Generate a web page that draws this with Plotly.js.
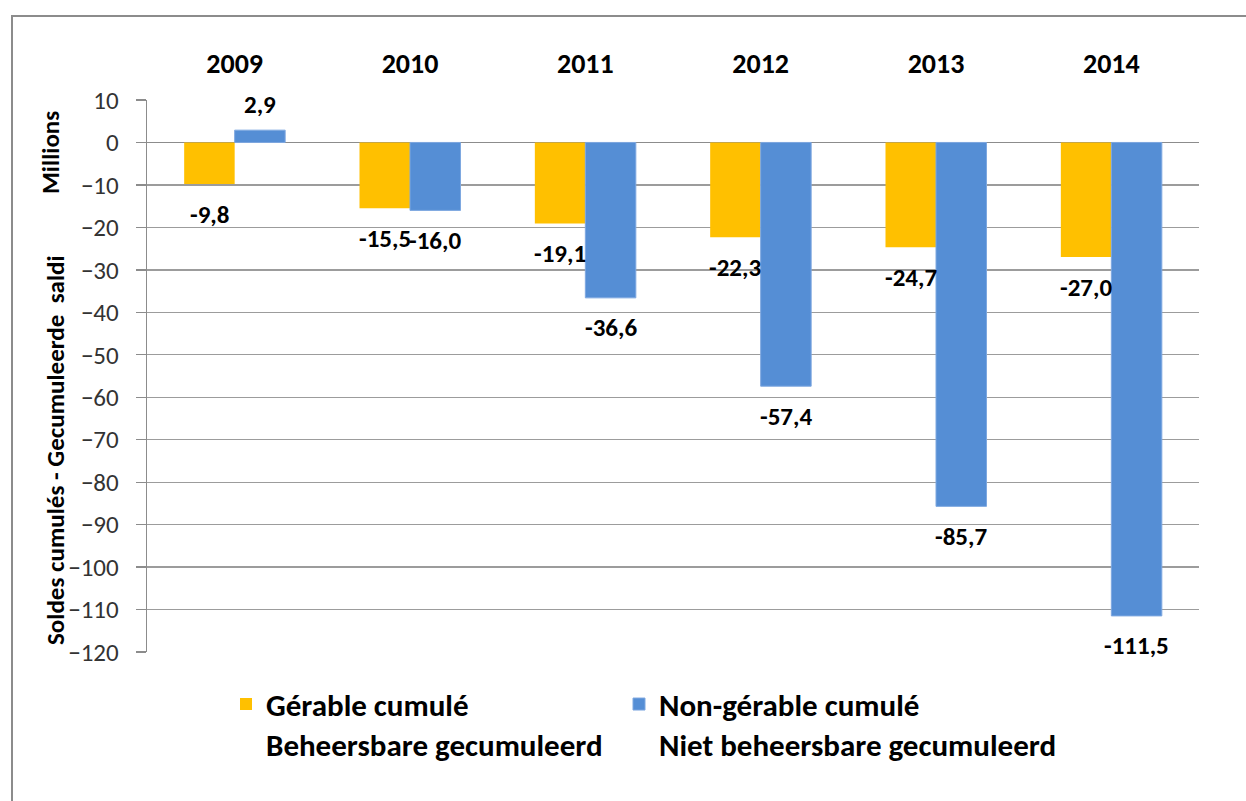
<!DOCTYPE html>
<html>
<head>
<meta charset="utf-8">
<script src="https://cdn.plot.ly/plotly-3.0.1.min.js"></script>
<style>
  html, body { margin: 0; padding: 0; background: #fff; overflow: hidden; }
  #wrap { position: relative; width: 1246px; height: 801px; }
  #chart { width: 1246px; height: 801px; }
  #frame { position: absolute; left: 11px; top: 15px; width: 1400px; height: 900px;
           border-left: 2px solid #8c8c8c; border-top: 2px solid #8c8c8c; pointer-events: none; }
</style>
</head>
<body>
<div id="wrap">
  <div id="chart"></div>
  <div id="frame"></div>
</div>
<script>
const years = ['2009', '2010', '2011', '2012', '2013', '2014'];
const gerable = [-9.8, -15.5, -19.1, -22.3, -24.7, -27.0];
const nonGerable = [2.9, -16.0, -36.6, -57.4, -85.7, -111.5];
const nameGerable = 'Gérable cumulé<br>Beheersbare gecumuleerd';
const nameNonGerable = 'Non-gérable cumulé<br>Niet beheersbare gecumuleerd';
const yTitle = 'Soldes cumulés - Gecumuleerde\u00a0 saldi';
const unitsLabel = 'Millions';

const FONT = 'Carlito, Calibri, Lato, sans-serif';
const bargap = 0.424;
const half = (1 - bargap) / 4;
const fmt = v => v.toFixed(1).replace('.', ',');

const traces = [
  { type: 'bar', x: years, y: gerable, name: nameGerable, legend: 'legend',
    marker: { color: '#FFC000', line: { width: 0 } }, hoverinfo: 'skip' },
  { type: 'bar', x: years, y: nonGerable, name: nameNonGerable, legend: 'legend2',
    marker: { color: '#558ED5', line: { color: '#7EA8E0', width: 1 } }, hoverinfo: 'skip' }
];

const annotations = [];
[[gerable, -half], [nonGerable, half]].forEach(([vals, off]) => {
  vals.forEach((v, i) => {
    annotations.push({
      x: i + off, y: v, xref: 'x', yref: 'y', text: fmt(v), showarrow: false,
      xanchor: 'center', yanchor: 'middle',
      yshift: v < 0 ? -30 : 26,
      font: { family: FONT, size: 25, color: '#000', weight: 'bold' }
    });
  });
});
annotations.push({
  xref: 'paper', yref: 'paper', x: (50 - 147) / 1052, y: (652 - 153) / 552, text: unitsLabel,
  textangle: -90, xanchor: 'center', yanchor: 'middle',
  showarrow: false, font: { family: FONT, size: 25, color: '#000', weight: 'bold' }
});
annotations.push({
  xref: 'paper', yref: 'paper', x: (56 - 147) / 1052, y: (652 - 450) / 552, text: yTitle,
  textangle: -90, xanchor: 'center', yanchor: 'middle',
  showarrow: false, font: { family: FONT, size: 25, color: '#000', weight: 'bold' }
});

const legendBase = {
  orientation: 'v', xanchor: 'left', yanchor: 'top', valign: 'top',
  bgcolor: 'rgba(0,0,0,0)', borderwidth: 0,
  font: { family: FONT, size: 31, color: '#000', weight: 'bold' }
};

const layout = {
  width: 1246, height: 801,
  margin: { l: 147, r: 47, t: 100, b: 149 },
  paper_bgcolor: '#fff', plot_bgcolor: '#fff',
  barmode: 'group', bargap: bargap, bargroupgap: 0,
  showlegend: true,
  legend: Object.assign({}, legendBase, { x: (226 - 147) / 1052, y: -0.046 }),
  legend2: Object.assign({}, legendBase, { x: (619 - 147) / 1052, y: -0.046 }),
  xaxis: {
    type: 'category', side: 'top', showgrid: false, showline: false, zeroline: false,
    ticks: '', ticklabelstandoff: 20,
    tickfont: { family: FONT, size: 28, color: '#000', weight: 'bold' }
  },
  xaxis2: {
    overlaying: 'x', anchor: 'free', position: 120 / 130, side: 'bottom',
    range: [-0.5, 5.5], tickvals: [-0.5, 0.5, 1.5, 2.5, 3.5, 4.5, 5.5],
    showticklabels: false, ticks: 'outside', ticklen: 10, tickcolor: '#8c8c8c', tickwidth: 1.3,
    showgrid: false, zeroline: false, showline: false
  },
  yaxis: {
    range: [-120, 10], dtick: 10, tick0: 0,
    ticks: 'outside', ticklen: 10, tickcolor: '#8c8c8c', tickwidth: 1.3,
    showline: true, linecolor: '#8c8c8c', linewidth: 1.3,
    showgrid: true, gridcolor: '#9c9c9c', gridwidth: 1.3,
    zeroline: true, zerolinecolor: '#8c8c8c', zerolinewidth: 1.3,
    ticklabelstandoff: 12,
    tickfont: { family: FONT, size: 25, color: '#333333' }
  },
  annotations: annotations
};

Plotly.newPlot('chart', traces, layout, { displayModeBar: false, staticPlot: true });
</script>
</body>
</html>
